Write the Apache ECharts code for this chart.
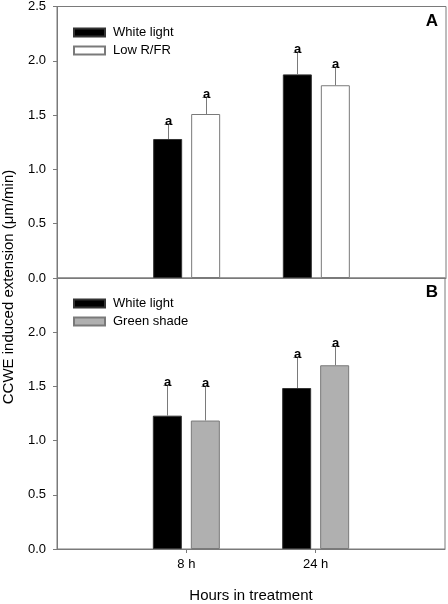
<!DOCTYPE html>
<html><head><meta charset="utf-8">
<script src="https://cdn.jsdelivr.net/npm/echarts@6/dist/echarts.min.js"></script>
<style>html,body{margin:0;padding:0;background:#fff}#c{width:448px;height:604px}</style>
</head><body><div id="c"></div>
<script>
// ---- data ----
const categories = ['8 h', '24 h'];
const yTickStep = 0.5;
const yMax = 2.5;
const whiteLightA = [1.28, 1.875];
const whiteLightAErr = [0.135, 0.21];
const whiteLightALetters = ['a', 'a'];
const lowRFR = [1.51, 1.775];
const lowRFRErr = [0.16, 0.17];
const lowRFRLetters = ['a', 'a'];
const whiteLightB = [1.23, 1.485];
const whiteLightBErr = [0.285, 0.29];
const whiteLightBLetters = ['a', 'a'];
const greenShade = [1.185, 1.695];
const greenShadeErr = [0.315, 0.18];
const greenShadeLetters = ['a', 'a'];

// ---- chart ----
const FONT = 'Liberation Sans, Arial, Helvetica, sans-serif';
const GRAY = '#7a7a7a';
const axisCats = ['', ...categories, ''];
const pad = arr => [null, ...arr, null];
const BAR_W = 29;
const OFF = 19;

function errSeries(vals, errs, letters, gi, offset) {
  return {
    type: 'custom', xAxisIndex: gi, yAxisIndex: gi, z: 5,
    data: vals.map((v, i) => [i + 1, v, errs[i]]),
    renderItem: function (params, api) {
      const x = api.value(0), v = api.value(1), e = api.value(2);
      const p0 = api.coord([x, v]);
      const p1 = api.coord([x, v + e]);
      const cx = Math.round(p0[0] + offset) + 0.5;
      const ty = Math.round(p1[1]) + 0.5;
      return {
        type: 'group', children: [
          { type: 'line', shape: { x1: cx, y1: p0[1], x2: cx, y2: ty }, style: { stroke: GRAY, lineWidth: 1 } },
          { type: 'line', shape: { x1: cx - 4, y1: ty, x2: cx + 4, y2: ty }, style: { stroke: GRAY, lineWidth: 1 } },
          { type: 'text', x: cx, y: ty + 3.5, style: { text: letters[params.dataIndex], font: 'bold 13px ' + FONT, fill: '#000', align: 'center', verticalAlign: 'bottom' } }
        ]
      };
    }
  };
}

function yAx(gi, hideTop) {
  return {
    type: 'value', gridIndex: gi, min: 0, max: yMax, interval: yTickStep,
    axisLine: { show: true, lineStyle: { color: GRAY } },
    axisTick: { show: true, length: 4, lineStyle: { color: GRAY } },
    splitLine: { show: false },
    axisLabel: {
      color: '#000', fontSize: 13, fontFamily: FONT, margin: 11,
      formatter: v => (hideTop && v >= yMax) ? '' : v.toFixed(1)
    }
  };
}

const option = {
  animation: false,
  backgroundColor: '#fff',
  grid: [
    { left: 57, right: 2, top: 6, height: 272, show: true, borderColor: GRAY, borderWidth: 1 },
    { left: 57, right: 2, top: 278, height: 273, show: true, borderColor: GRAY, borderWidth: 1 }
  ],
  xAxis: [
    { type: 'category', gridIndex: 0, data: axisCats, boundaryGap: false,
      axisLine: { show: true, lineStyle: { color: GRAY } }, axisTick: { show: false }, axisLabel: { show: false } },
    { type: 'category', gridIndex: 1, data: axisCats, boundaryGap: false,
      axisLine: { show: true, lineStyle: { color: GRAY } },
      axisTick: { show: true, length: 4, interval: (i) => i >= 1 && i <= categories.length, lineStyle: { color: GRAY } },
      axisLabel: { color: '#000', fontSize: 13, fontFamily: FONT, margin: 9, interval: 0 },
      name: 'Hours in treatment', nameLocation: 'middle', nameGap: 39,
      nameTextStyle: { color: '#000', fontSize: 15, fontFamily: FONT } }
  ],
  yAxis: [yAx(0, false), yAx(1, true)],
  legend: [
    { left: 73, top: 26, orient: 'vertical', padding: 0, itemWidth: 31, itemHeight: 8, itemGap: 5,
      icon: 'rect', data: ['White light', 'Low R/FR'],
      textStyle: { color: '#000', fontSize: 13, fontFamily: FONT, lineHeight: 13, padding: [0, 0, 0, 3] } },
    { left: 73, top: 297, orient: 'vertical', padding: 0, itemWidth: 31, itemHeight: 8, itemGap: 5,
      icon: 'rect', data: ['White light', 'Green shade'],
      textStyle: { color: '#000', fontSize: 13, fontFamily: FONT, lineHeight: 13, padding: [0, 0, 0, 3] } }
  ],
  graphic: [
    { type: 'text', right: 10, top: 13, style: { text: 'A', font: 'bold 17px ' + FONT, fill: '#000' } },
    { type: 'text', right: 10, top: 284, style: { text: 'B', font: 'bold 17px ' + FONT, fill: '#000' } },
    { type: 'text', x: 9, y: 287, rotation: Math.PI / 2,
      style: { text: 'CCWE induced extension (\u03bcm/min)', font: '15px ' + FONT, fill: '#000', align: 'center', verticalAlign: 'middle' } }
  ],
  series: [
    { name: 'White light', type: 'bar', xAxisIndex: 0, yAxisIndex: 0, data: pad(whiteLightA), barWidth: BAR_W, barGap: '31%',
      itemStyle: { color: '#000', borderColor: '#333', borderWidth: 1 } },
    { name: 'Low R/FR', type: 'bar', xAxisIndex: 0, yAxisIndex: 0, data: pad(lowRFR), barWidth: BAR_W, barGap: '31%',
      itemStyle: { color: '#fff', borderColor: GRAY, borderWidth: 1 } },
    { name: 'White light', type: 'bar', xAxisIndex: 1, yAxisIndex: 1, data: pad(whiteLightB), barWidth: BAR_W, barGap: '31%',
      itemStyle: { color: '#000', borderColor: '#333', borderWidth: 1 } },
    { name: 'Green shade', type: 'bar', xAxisIndex: 1, yAxisIndex: 1, data: pad(greenShade), barWidth: BAR_W, barGap: '31%',
      itemStyle: { color: '#b0b0b0', borderColor: GRAY, borderWidth: 1 } },
    errSeries(whiteLightA, whiteLightAErr, whiteLightALetters, 0, -OFF),
    errSeries(lowRFR, lowRFRErr, lowRFRLetters, 0, OFF),
    errSeries(whiteLightB, whiteLightBErr, whiteLightBLetters, 1, -OFF),
    errSeries(greenShade, greenShadeErr, greenShadeLetters, 1, OFF)
  ]
};
const chart = echarts.init(document.getElementById('c'), null, { renderer: 'canvas' });
chart.setOption(option);
</script>
</body></html>
